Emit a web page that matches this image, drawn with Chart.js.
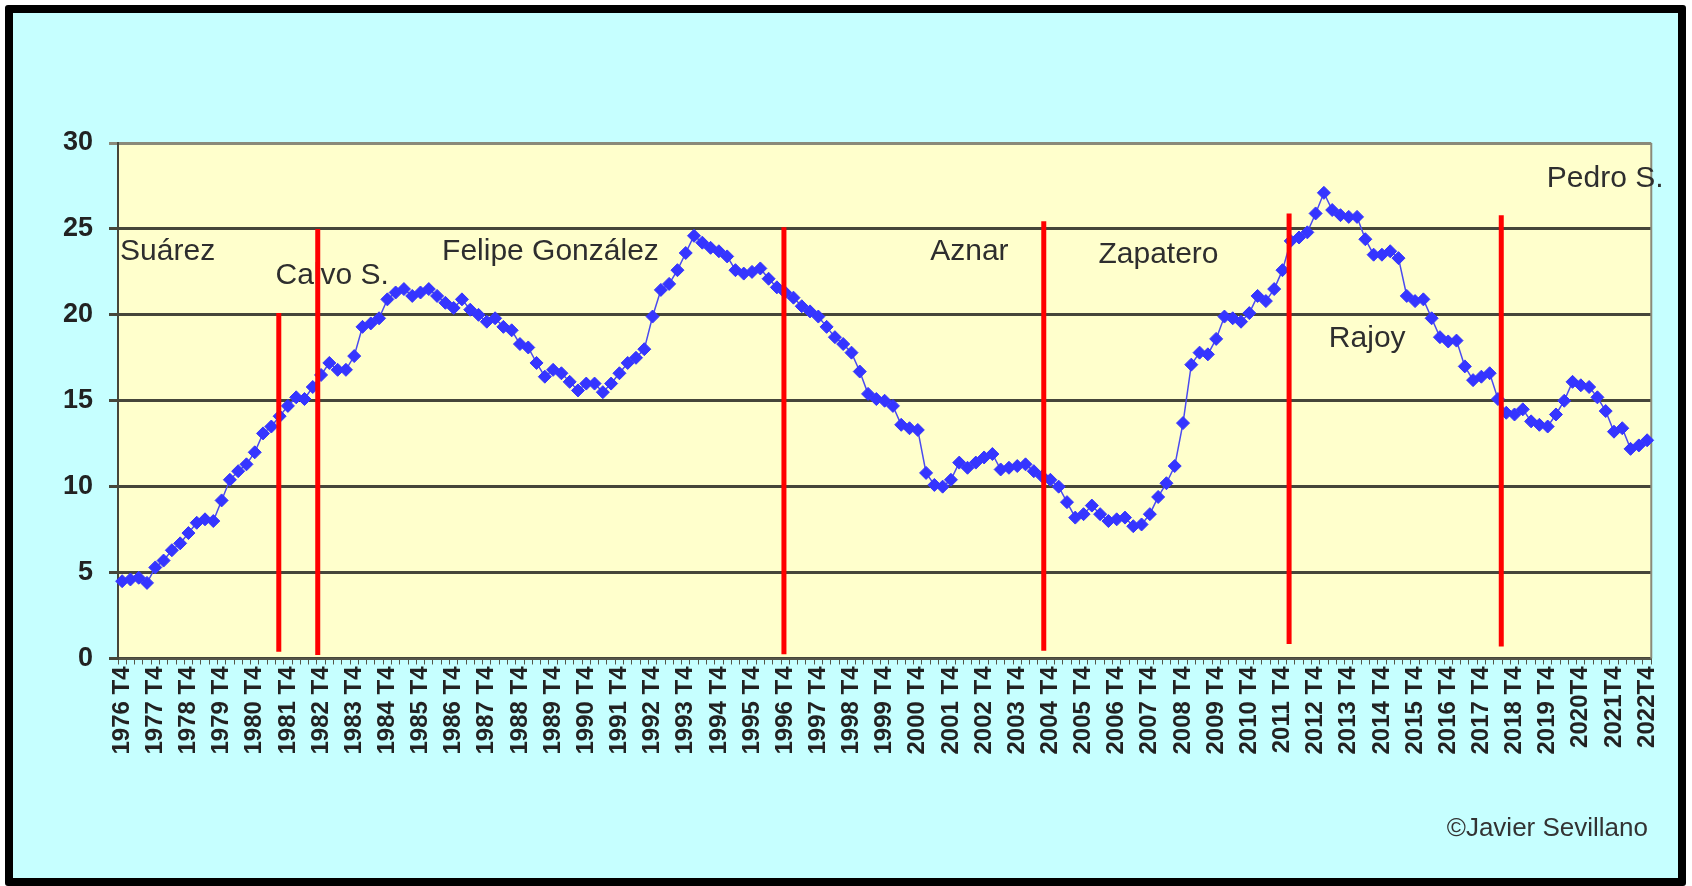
<!DOCTYPE html>
<html>
<head>
<meta charset="utf-8">
<title>Tasa de paro</title>
<script src="https://cdn.jsdelivr.net/npm/chart.js@4"></script>
<style>
html, body { margin: 0; padding: 0; background: #fff; }
#frame {
    position: absolute; left: 5px; top: 5px;
    width: 1665px; height: 865px;
    border: 8px solid #000; border-radius: 3px;
    background: #c6ffff;
}
canvas { display: block; }
</style>
</head>
<body>
<div id="frame"><canvas id="paroCanvas" width="1665" height="865"></canvas></div>
<script>
// quarters 1976 T4 .. 2022 T4
var quarters = [];
for (var y = 1976; y <= 2022; y++) {
    for (var q = 1; q <= 4; q++) {
        if (y === 1976 && q < 4) continue;
        quarters.push(y + ' T' + q);
    }
}

var yearTicks = ['1976 T4','1977 T4','1978 T4','1979 T4','1980 T4','1981 T4','1982 T4','1983 T4',
    '1984 T4','1985 T4','1986 T4','1987 T4','1988 T4','1989 T4','1990 T4','1991 T4','1992 T4',
    '1993 T4','1994 T4','1995 T4','1996 T4','1997 T4','1998 T4','1999 T4','2000 T4','2001 T4',
    '2002 T4','2003 T4','2004 T4','2005 T4','2006 T4','2007 T4','2008 T4','2009 T4','2010 T4',
    '2011 T4','2012 T4','2013 T4','2014 T4','2015 T4','2016 T4','2017 T4','2018 T4','2019 T4',
    '2020T4','2021T4','2022T4'];

// tasa de paro (%), one value per quarter
var paro = [
    4.5, 4.6, 4.7, 4.4, 5.3, 5.7, 6.3, 6.7, 7.3, 7.9, 8.1, 8.0,
    9.2, 10.4, 10.9, 11.3, 12.0, 13.1, 13.5, 14.1, 14.7, 15.2, 15.1, 15.8,
    16.5, 17.2, 16.8, 16.8, 17.6, 19.3, 19.5, 19.8, 20.9, 21.3, 21.5, 21.1,
    21.3, 21.5, 21.1, 20.7, 20.4, 20.9, 20.3, 20.0, 19.6, 19.8, 19.3, 19.1,
    18.3, 18.1, 17.2, 16.4, 16.8, 16.6, 16.1, 15.6, 16.0, 16.0, 15.5, 16.0,
    16.6, 17.2, 17.5, 18.0, 19.9, 21.45, 21.8, 22.6, 23.6, 24.6, 24.2, 23.9,
    23.7, 23.4, 22.6, 22.4, 22.5, 22.7, 22.1, 21.6, 21.3, 21.0, 20.5, 20.2,
    19.9, 19.3, 18.7, 18.3, 17.8, 16.7, 15.4, 15.1, 15.0, 14.7, 13.6, 13.4,
    13.3, 10.8, 10.1, 10.0, 10.4, 11.4, 11.1, 11.4, 11.7, 11.9, 11.0, 11.1,
    11.2, 11.3, 10.9, 10.6, 10.4, 10.0, 9.1, 8.2, 8.4, 8.9, 8.4, 8.0,
    8.1, 8.2, 7.7, 7.8, 8.4, 9.4, 10.2, 11.2, 13.7, 17.1, 17.8, 17.7,
    18.6, 19.9, 19.8, 19.6, 20.1, 21.1, 20.8, 21.5, 22.6, 24.3, 24.5, 24.8,
    25.9, 27.1, 26.1, 25.8, 25.7, 25.7, 24.4, 23.5, 23.5, 23.7, 23.3, 21.1,
    20.8, 20.9, 19.8, 18.7, 18.45, 18.5, 17.0, 16.2, 16.4, 16.6, 15.1, 14.3,
    14.2, 14.5, 13.8, 13.6, 13.5, 14.2, 15.0, 16.1, 15.9, 15.8, 15.2, 14.4,
    13.2, 13.4, 12.2, 12.4, 12.7
];

// changes of government: position on the quarter axis, top and foot of the red mark
var cambioAt = [18.9, 23.6, 79.85, 111.2, 140.8, 166.4];
var cambioTop = [20.1, 25.0, 25.1, 25.45, 25.9, 25.8];
var cambioFoot = [0.4, 0.2, 0.25, 0.45, 0.85, 0.7];

// presidents' names, placed in data units
var presidentes = ['Suárez', 'Calvo S.', 'Felipe González', 'Aznar', 'Zapatero', 'Rajoy', 'Pedro S.'];
var presidenteAt = [-0.25, 18.5, 38.6, 97.5, 117.8, 145.6, 171.9];
var presidenteNivel = [23.7, 22.3, 23.7, 23.7, 23.5, 18.6, 27.9];

var firma = '\u00A9Javier Sevillano';

var fuente = "'Liberation Sans', Arial, sans-serif";

var decorations = {
    id: 'decorations',
    beforeDraw: function(chart) {
        var a = chart.chartArea, ctx = chart.ctx;
        ctx.save();
        ctx.fillStyle = '#ffffcc';
        ctx.fillRect(a.left, a.top, a.right - a.left, a.bottom - a.top);
        ctx.restore();
    },
    beforeDatasetsDraw: function(chart) {
        var a = chart.chartArea, ctx = chart.ctx;
        ctx.save();
        ctx.strokeStyle = '#8a8a7a';
        ctx.lineWidth = 2;
        ctx.beginPath();
        ctx.moveTo(a.right, a.top);
        ctx.lineTo(a.right, a.bottom);
        ctx.stroke();
        ctx.restore();
    },
    afterDatasetsDraw: function(chart) {
        var ctx = chart.ctx, xs = chart.scales.x, ys = chart.scales.y;
        ctx.save();
        ctx.font = '30px ' + fuente;
        ctx.fillStyle = '#2e2e2e';
        ctx.textAlign = 'left';
        ctx.textBaseline = 'middle';
        for (var i = 0; i < presidentes.length; i++) {
            ctx.fillText(presidentes[i], xs.getPixelForValue(presidenteAt[i]), ys.getPixelForValue(presidenteNivel[i]));
        }
        ctx.strokeStyle = '#ff0000';
        ctx.lineWidth = 5;
        for (var j = 0; j < cambioAt.length; j++) {
            var px = xs.getPixelForValue(cambioAt[j]);
            ctx.beginPath();
            ctx.moveTo(px, ys.getPixelForValue(cambioTop[j]));
            ctx.lineTo(px, ys.getPixelForValue(cambioFoot[j]));
            ctx.stroke();
        }
        ctx.restore();
    },
    afterDraw: function(chart) {
        var ctx = chart.ctx;
        ctx.save();
        ctx.font = '26px ' + fuente;
        ctx.fillStyle = '#333';
        ctx.textAlign = 'right';
        ctx.textBaseline = 'middle';
        ctx.fillText(firma, chart.width - 30, 816);
        ctx.restore();
    }
};

var ctx0 = document.getElementById('paroCanvas');

var paroChart = new Chart(ctx0, {
    type: 'line',
    data: {
        labels: quarters,
        datasets: [{
            label: 'Tasa de paro',
            data: paro,
            borderColor: '#4a4af0',
            borderWidth: 1.5,
            pointStyle: 'rectRot',
            pointRadius: 6.5,
            pointBorderWidth: 1,
            pointBackgroundColor: '#3535ff',
            pointBorderColor: '#3535ff',
            tension: 0,
            clip: 8
        }]
    },
    options: {
        responsive: false,
        animation: false,
        devicePixelRatio: 1,
        layout: {
            padding: { top: 130, right: 25, bottom: 89.5, left: 0 }
        },
        plugins: {
            legend: { display: false },
            tooltip: { enabled: false }
        },
        scales: {
            x: {
                offset: true,
                afterFit: function(s) { s.height = 130; },
                grid: {
                    offset: true,
                    drawOnChartArea: false,
                    drawTicks: true,
                    tickLength: 6,
                    color: '#555548',
                    lineWidth: 1
                },
                border: { display: true, color: '#555548', width: 2 },
                ticks: {
                    autoSkip: false,
                    minRotation: 90,
                    maxRotation: 90,
                    padding: 2,
                    color: '#222',
                    font: { family: fuente, size: 24, weight: 'bold' },
                    callback: function(value, index) {
                        return index % 4 === 0 ? yearTicks[index / 4] : '';
                    }
                }
            },
            y: {
                min: 0,
                max: 30,
                afterFit: function(s) { s.width = 105; },
                grid: {
                    color: function(c) { return c.tick && c.tick.value === 30 ? '#8a8a7a' : '#46463a'; },
                    lineWidth: 3,
                    tickLength: 9
                },
                border: { display: true, color: '#46463a', width: 2 },
                ticks: {
                    stepSize: 5,
                    padding: 16,
                    color: '#222',
                    font: { family: fuente, size: 27, weight: 'bold' }
                }
            }
        }
    },
    plugins: [decorations]
});
</script>
</body>
</html>
